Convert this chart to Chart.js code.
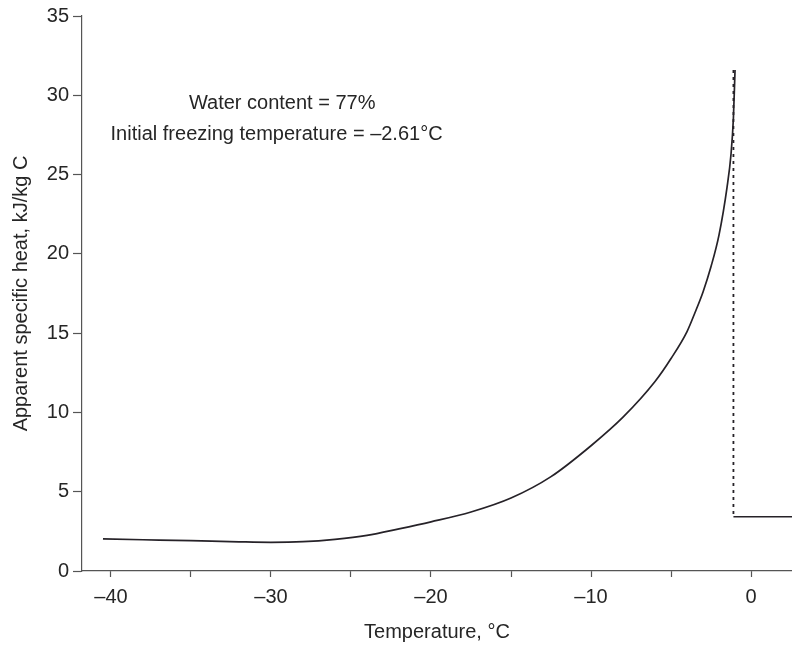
<!DOCTYPE html>
<html>
<head>
<meta charset="utf-8">
<script src="https://cdn.jsdelivr.net/npm/chart.js@4.4.1/dist/chart.umd.min.js"></script>
<style>
  html, body { margin: 0; padding: 0; background: #ffffff; }
  #wrap { width: 792px; height: 645px; position: relative; }
</style>
</head>
<body>
<div id="wrap"><canvas id="c" width="792" height="645"></canvas></div>
<script>
// Apparent specific heat of a food product below and above freezing
const temperature = [-40.5, -38, -35, -32, -30, -28, -26, -24, -22, -20, -17.5, -15, -12.5, -10, -8, -6, -5, -4, -3.5, -3, -2.5, -2, -1.5, -1.25, -1.1, -1.0];
const specificHeat = [2.02, 1.97, 1.91, 1.84, 1.81, 1.85, 2.0, 2.25, 2.66, 3.1, 3.72, 4.6, 5.95, 7.9, 9.7, 11.95, 13.4, 15.1, 16.3, 17.6, 19.2, 21.2, 24.2, 26.3, 28.6, 31.6];

// Freezing step: dashed drop at the freezing point, then the unfrozen level
const stepTemperature = [-1.1, -1.1];
const stepHeat = [31.6, 3.42];
const unfrozenTemperature = [-1.1, 2.6];
const unfrozenHeat = [3.42, 3.42];

const xTicks = [-40, -35, -30, -25, -20, -15, -10, -5, 0];
const yTicks = [0, 5, 10, 15, 20, 25, 30, 35];
const xRange = [-41.81, 2.56];
const yRange = [0, 35];

const noteLines = ['Water content = 77%', 'Initial freezing temperature = \u20132.61\u00b0C'];
const notePos = [[-29.3, 29.5], [-29.65, 27.5]];

const toXY = (xs, ys) => xs.map((x, i) => ({ x: x, y: ys[i] }));
const ink = '#262228';
const textInk = '#262626';
const fontFam = '"Liberation Sans", Arial, Helvetica, sans-serif';

const notePlugin = {
  id: 'note',
  afterDatasetsDraw(chart) {
    const ctx = chart.ctx;
    const xs = chart.scales.x, ys = chart.scales.y;
    ctx.save();
    ctx.fillStyle = textInk;
    ctx.font = '20px ' + fontFam;
    ctx.textAlign = 'center';
    ctx.textBaseline = 'middle';
    noteLines.forEach((t, i) => {
      ctx.fillText(t, xs.getPixelForValue(notePos[i][0]), ys.getPixelForValue(notePos[i][1]));
    });
    ctx.restore();
  }
};

new Chart(document.getElementById('c'), {
  type: 'scatter',
  data: {
    datasets: [
      {
        data: toXY(temperature, specificHeat),
        showLine: true,
        borderColor: ink,
        borderWidth: 1.7,
        pointRadius: 0,
        cubicInterpolationMode: 'monotone'
      },
      {
        data: toXY(stepTemperature, stepHeat),
        showLine: true,
        borderColor: ink,
        borderWidth: 1.8,
        borderDash: [3, 4],
        pointRadius: 0
      },
      {
        data: toXY(unfrozenTemperature, unfrozenHeat),
        showLine: true,
        borderColor: ink,
        borderWidth: 1.7,
        pointRadius: 0
      }
    ]
  },
  options: {
    responsive: false,
    animation: false,
    events: [],
    layout: { padding: { top: 16, right: 0, left: 0, bottom: 0 } },
    plugins: { legend: { display: false }, tooltip: { enabled: false } },
    scales: {
      x: {
        type: 'linear',
        min: xRange[0],
        max: xRange[1],
        afterBuildTicks: s => { s.ticks = xTicks.map(v => ({ value: v })); },
        afterFit: s => { s.height = 74; },
        border: { display: true, color: '#555', width: 1.2 },
        grid: { display: true, drawOnChartArea: false, drawTicks: true, tickLength: 6, tickColor: '#555', tickWidth: 1.2 },
        ticks: {
          color: textInk,
          font: { family: fontFam, size: 20 },
          padding: 8,
          maxRotation: 0,
          autoSkip: false,
          callback: v => (v % 10 === 0 ? (v < 0 ? '\u2013' + Math.abs(v) : String(v)) : '')
        },
        title: {
          display: true,
          text: 'Temperature, \u00b0C',
          color: textInk,
          font: { family: fontFam, size: 20 },
          padding: { top: 1, bottom: 1 }
        }
      },
      y: {
        type: 'linear',
        min: yRange[0],
        max: yRange[1],
        afterBuildTicks: s => { s.ticks = yTicks.map(v => ({ value: v })); },
        afterFit: s => { s.width = 82; },
        border: { display: true, color: '#555', width: 1.2 },
        grid: { display: true, drawOnChartArea: false, drawTicks: true, tickLength: 9, tickColor: '#555', tickWidth: 1.2 },
        ticks: {
          color: textInk,
          font: { family: fontFam, size: 20 },
          padding: 4,
          callback: v => String(v)
        },
        title: {
          display: true,
          text: 'Apparent specific heat, kJ/kg C',
          color: textInk,
          font: { family: fontFam, size: 20 },
          padding: { top: 9, bottom: 9 }
        }
      }
    }
  },
  plugins: [notePlugin]
});
</script>
</body>
</html>
